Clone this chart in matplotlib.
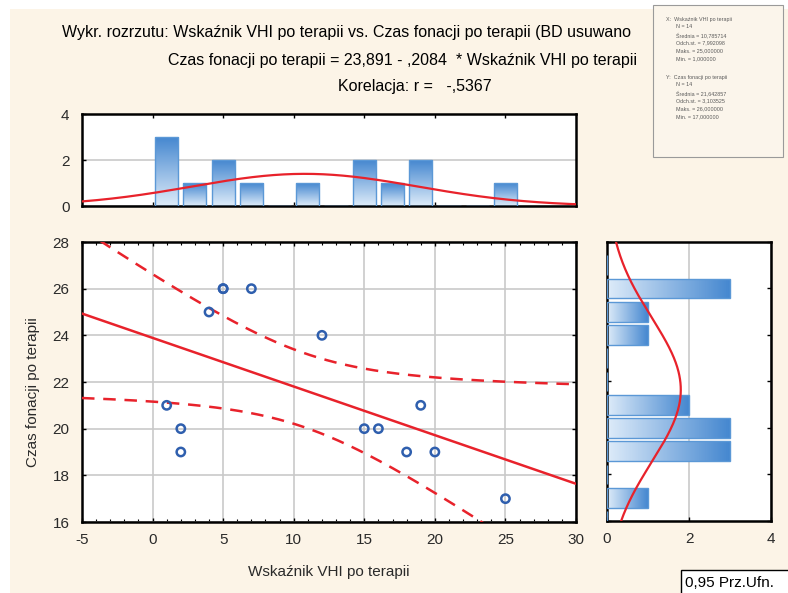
import numpy as np
import pandas as pd
import matplotlib
matplotlib.use("Agg")
import matplotlib.pyplot as plt
from matplotlib.patches import Rectangle
from matplotlib.colors import LinearSegmentedColormap

# ---------------- data ----------------
vhi = [1, 2, 2, 4, 5, 5, 7, 12, 15, 16, 18, 19, 20, 25]          # Wskaźnik VHI po terapii
czas = [21, 20, 19, 25, 26, 26, 26, 24, 20, 20, 19, 21, 19, 17]  # Czas fonacji po terapii
x_bin_edges = [0, 2, 4, 6, 8, 10, 12, 14, 16, 18, 20, 22, 24, 26]
y_bin_edges = [15.5, 16.5, 17.5, 18.5, 19.5, 20.5, 21.5, 22.5, 23.5, 24.5, 25.5, 26.5, 27.5]
t_crit = 2.178813  # t(0.975, df=12)

title1 = "Wykr. rozrzutu: Wskaźnik VHI po terapii vs. Czas fonacji po terapii (BD usuwano"
title2 = "Czas fonacji po terapii = 23,891 - ,2084  * Wskaźnik VHI po terapii"
title3 = "Korelacja: r =   -,5367"
xlabel = "Wskaźnik VHI po terapii"
ylabel = "Czas fonacji po terapii"
x_ticks = [-5, 0, 5, 10, 15, 20, 25, 30]
y_ticks = [16, 18, 20, 22, 24, 26, 28]
hist_ticks = [0, 2, 4]

# ---------------- style ----------------
plt.rcParams['font.family'] = ['Liberation Sans', 'DejaVu Sans']
plt.rcParams['axes.unicode_minus'] = False
W, H = 788, 593
CREAM = '#FCF4E7'
TXT = '#2a2a2a'
RED = '#E8222B'
BLUE_PT = '#2F5FAE'
GRID = '#C9C9C9'
cmap = LinearSegmentedColormap.from_list('barg', ['#DDEBF9', '#4688D0'])

x = np.array(vhi, float)
y = np.array(czas, float)
n = len(x)

fig = plt.figure(figsize=(W / 100, H / 100), dpi=100, facecolor='white')
fig.patches.append(Rectangle((10 / W, 0), 1, 1 - 9 / H, transform=fig.transFigure,
                             facecolor=CREAM, edgecolor='none', zorder=-10))


def fx(px):
    return px / W


def fy(py):
    return 1 - py / H


ax_sc = fig.add_axes([fx(82), fy(522), 494 / W, 280 / H])
ax_top = fig.add_axes([fx(82), fy(206), 494 / W, 92 / H])
ax_r = fig.add_axes([fx(607), fy(521), 164 / W, 279 / H])

for ax in (ax_sc, ax_top, ax_r):
    ax.set_facecolor('white')
    for s in ax.spines.values():
        s.set_linewidth(1.8)
        s.set_color('black')
    ax.tick_params(which='both', direction='in', colors='black', labelcolor=TXT,
                   labelsize=11, top=True, right=True)
    ax.tick_params(which='major', length=3, width=1)
    ax.tick_params(which='minor', length=2, width=0.8)

# ---------------- scatter ----------------
slope, intercept = np.polyfit(x, y, 1)
xs = np.linspace(-5, 30, 300)
fit = intercept + slope * xs
resid = y - (intercept + slope * x)
s_err = np.sqrt(np.sum(resid ** 2) / (n - 2))
sxx = np.sum((x - x.mean()) ** 2)
half = t_crit * s_err * np.sqrt(1 / n + (xs - x.mean()) ** 2 / sxx)

ax_sc.plot(xs, fit, color=RED, lw=1.8, zorder=3)
ax_sc.plot(xs, fit + half, color=RED, lw=1.8, ls=(0, (5, 3.5)), zorder=3)
ax_sc.plot(xs, fit - half, color=RED, lw=1.8, ls=(0, (5, 3.5)), zorder=3)
ax_sc.scatter(x, y, s=36, facecolors='none', edgecolors=BLUE_PT, linewidths=1.8, zorder=4)

ax_sc.set_xlim(-5, 30)
ax_sc.set_ylim(16, 28)
ax_sc.set_xticks(x_ticks)
ax_sc.set_yticks(y_ticks)
ax_sc.set_xticks(np.arange(-5, 31, 1), minor=True)
ax_sc.grid(True, which='major', color=GRID, lw=1.2, zorder=0)
ax_sc.set_axisbelow(True)
ax_sc.tick_params(axis='x', pad=8)
ax_sc.tick_params(axis='y', pad=9)

fig.text(fx(329), fy(572), xlabel, ha='center', va='center', fontsize=11, color=TXT)
fig.text(fx(33), fy(392), ylabel, ha='center', va='center', rotation=90, fontsize=11, color=TXT)


def grad_bars(ax, rects, vertical):
    for r in rects:
        x0, y0 = r.get_x(), r.get_y()
        w, h = r.get_width(), r.get_height()
        if vertical:
            g = np.linspace(0, 1, 64)[:, None]
        else:
            g = np.linspace(0, 1, 64)[None, :]
        im = ax.imshow(g, extent=[x0, x0 + w, y0, y0 + h], origin='lower',
                       aspect='auto', cmap=cmap, vmin=0, vmax=1, zorder=2)
        im.set_clip_path(r)


def counts_for(vals, edges):
    cats = pd.cut(vals, bins=edges, right=True)
    return pd.Series(cats).value_counts(sort=False).reindex(cats.categories).values


# ---------------- top histogram ----------------
x_counts = counts_for(x, x_bin_edges)
x_centers = (np.array(x_bin_edges[:-1]) + np.array(x_bin_edges[1:])) / 2
bw_x = x_bin_edges[1] - x_bin_edges[0]
bars = ax_top.bar(x_centers, x_counts, width=bw_x * 0.82, facecolor='none',
                  edgecolor='#5B98D6', lw=1.0, zorder=3)
grad_bars(ax_top, bars.patches, True)
xn = np.linspace(-5, 30, 300)
mx, sx = x.mean(), x.std(ddof=1)
ax_top.plot(xn, n * bw_x * np.exp(-0.5 * ((xn - mx) / sx) ** 2) / (sx * np.sqrt(2 * np.pi)),
            color=RED, lw=1.6, zorder=4)
ax_top.set_xlim(-5, 30)
ax_top.set_ylim(0, 4)
ax_top.set_yticks(hist_ticks)
ax_top.set_xticks([0, 5, 10, 15, 20, 25])
ax_top.tick_params(axis='x', labelbottom=False)
ax_top.tick_params(axis='y', right=False, pad=9)
ax_top.yaxis.grid(True, color=GRID, lw=1.2, zorder=0)
ax_top.set_axisbelow(True)

# ---------------- right histogram ----------------
y_counts = counts_for(y, y_bin_edges)
y_centers = (np.array(y_bin_edges[:-1]) + np.array(y_bin_edges[1:])) / 2
bw_y = y_bin_edges[1] - y_bin_edges[0]
hb = ax_r.barh(y_centers, y_counts, height=bw_y * 0.85, facecolor='none',
               edgecolor='#5B98D6', lw=1.0, zorder=3)
grad_bars(ax_r, hb.patches, False)
yn = np.linspace(16, 28, 300)
my, sy = y.mean(), y.std(ddof=1)
ax_r.plot(n * bw_y * np.exp(-0.5 * ((yn - my) / sy) ** 2) / (sy * np.sqrt(2 * np.pi)), yn,
          color=RED, lw=1.6, zorder=4)
ax_r.set_xlim(0, 4)
ax_r.set_ylim(16, 28)
ax_r.set_xticks(hist_ticks)
ax_r.set_yticks(y_ticks)
ax_r.tick_params(axis='y', labelleft=False)
ax_r.tick_params(axis='x', top=False, pad=8)
ax_r.xaxis.grid(True, color=GRID, lw=1.2, zorder=0)
ax_r.set_axisbelow(True)

# ---------------- titles ----------------
fig.text(fx(62), fy(33), title1, ha='left', va='center', fontsize=11.5, color='black')
fig.text(fx(402), fy(61), title2, ha='center', va='center', fontsize=11.5, color='black')
fig.text(fx(415), fy(87), title3, ha='center', va='center', fontsize=11.5, color='black')

# ---------------- stats box ----------------
fig.patches.append(Rectangle((fx(653), fy(157)), 130 / W, 152 / H, transform=fig.transFigure,
                             facecolor='#FBF5EB', edgecolor='#9A9A9A', lw=0.8, zorder=20))


def fmt(v):
    return f"{v:.6f}".replace('.', ',')


stats_lines = [
    (666, 19, "X:  Wskaźnik VHI po terapii"),
    (676, 27, f"N = {n}"),
    (676, 35, f"Średnia = {fmt(mx)}"),
    (676, 43, f"Odch.st. = {fmt(sx)}"),
    (676, 51, f"Maks. = {fmt(x.max())}"),
    (676, 59, f"Min. = {fmt(x.min())}"),
    (666, 77, "Y:  Czas fonacji po terapii"),
    (676, 85, f"N = {n}"),
    (676, 93, f"Średnia = {fmt(my)}"),
    (676, 101, f"Odch.st. = {fmt(sy)}"),
    (676, 109, f"Maks. = {fmt(y.max())}"),
    (676, 117, f"Min. = {fmt(y.min())}"),
]
for px, py, t in stats_lines:
    fig.text(fx(px), fy(py), t, ha='left', va='center', fontsize=3.9, color='#5a5a5a', zorder=21)

# ---------------- bottom-right box ----------------
fig.patches.append(Rectangle((fx(681), fy(597)), 120 / W, 27 / H, transform=fig.transFigure,
                             facecolor='white', edgecolor='black', lw=1.0, zorder=20))
fig.text(fx(685), fy(583), "0,95 Prz.Ufn.", ha='left', va='center', fontsize=11,
         color='black', zorder=21)

fig.savefig('out.png', dpi=100, facecolor=fig.get_facecolor())
